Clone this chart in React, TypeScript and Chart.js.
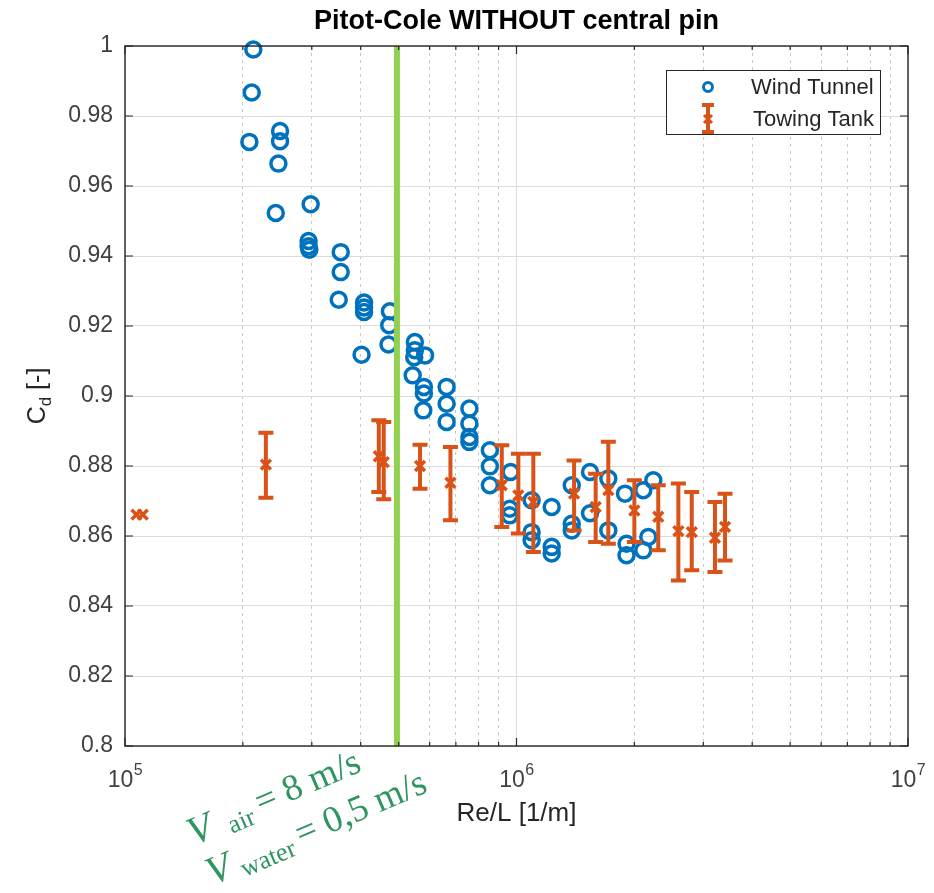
import React, { useEffect, useRef } from 'react';
import { Chart, registerables } from 'chart.js';

Chart.register(...registerables);

// ---------------- data ----------------
const windRe = [
  2.127e5, 2.107e5, 2.078e5, 2.489e5, 2.489e5, 2.465e5, 2.427e5,
  2.98e5, 2.944e5, 2.944e5, 2.957e5,
  3.556e5, 3.556e5, 3.515e5,
  4.08e5, 4.08e5, 4.08e5, 4.02e5,
  4.75e5, 4.73e5, 4.71e5,
  5.5e5, 5.5e5, 5.48e5, 5.84e5, 5.43e5, 5.8e5, 5.8e5, 5.78e5,
  6.63e5, 6.63e5, 6.63e5,
  7.58e5, 7.58e5, 7.58e5, 7.58e5,
  8.55e5, 8.55e5, 8.55e5,
  9.66e5, 9.61e5, 9.61e5,
  1.093e6, 1.093e6, 1.093e6,
  1.23e6, 1.23e6, 1.23e6,
  1.384e6, 1.384e6, 1.384e6,
  1.541e6, 1.541e6,
  1.716e6, 1.716e6,
  1.893e6, 1.91e6, 1.91e6,
  2.108e6, 2.236e6, 2.171e6, 2.108e6,
];
const windCd = [
  0.999, 0.9867, 0.9726, 0.9757, 0.9728, 0.9664, 0.9523,
  0.9548, 0.9443, 0.9428, 0.9418,
  0.9411, 0.9354, 0.9275,
  0.9267, 0.9253, 0.924, 0.9118,
  0.9242, 0.9202, 0.9147,
  0.9154, 0.9131, 0.9111, 0.9116, 0.9059, 0.9026, 0.9007, 0.8959,
  0.9026, 0.8978, 0.8926,
  0.8964, 0.8921, 0.8883, 0.8869,
  0.8845, 0.8799, 0.8745,
  0.8783, 0.8678, 0.8659,
  0.8702, 0.8611, 0.8588,
  0.8683, 0.8569, 0.855,
  0.8745, 0.8635, 0.8616,
  0.8783, 0.8665,
  0.8764, 0.8616,
  0.8721, 0.8578, 0.8545,
  0.8731, 0.8759, 0.8597, 0.8559,
];

const tankRe = [
  1.07e5, 1.11e5, 2.29e5, 4.45e5, 4.58e5, 5.67e5, 6.78e5,
  9.17e5, 1.011e6, 1.104e6, 1.403e6, 1.593e6, 1.716e6,
  2.0e6, 2.302e6, 2.591e6, 2.803e6, 3.213e6, 3.409e6,
];
const tankCd = [
  0.8661, 0.8661, 0.8804, 0.8828, 0.8811, 0.88, 0.8752,
  0.8745, 0.8716, 0.8697, 0.8721, 0.8683, 0.8731,
  0.8673, 0.8655, 0.8614, 0.8611, 0.8595, 0.8626,
];
const tankLow = [
  0.8661, 0.8661, 0.8709, 0.8726, 0.8705, 0.8735, 0.8645,
  0.8626, 0.8607, 0.8554, 0.8616, 0.8583, 0.8578,
  0.8583, 0.8559, 0.8473, 0.8502, 0.8497, 0.853,
];
const tankHigh = [
  0.8661, 0.8661, 0.8895, 0.8931, 0.8926, 0.8861, 0.8854,
  0.8859, 0.8835, 0.8835, 0.8816, 0.8778, 0.8869,
  0.8759, 0.8745, 0.875, 0.8726, 0.8697, 0.8721,
];

const speedLineRe = 4.95e5;

const xDecades = [1e5, 1e6, 1e7];
const xDecadeBase = ['10', '10', '10'];
const xDecadeExp = ['5', '6', '7'];
const yMin = 0.8;
const yMax = 1.0;
const yStep = 0.02;

const titleText = 'Pitot-Cole WITHOUT central pin';
const xLabelText = 'Re/L [1/m]';
const legendLabels = ['Wind Tunnel', 'Towing Tank'];

// ---------------- style ----------------
const W = 934;
const H = 893;
const BLUE = '#0072BD';
const ORANGE = '#D95319';
const GREEN = '#92D050';
const ANNOT = '#2e9560';
const AXIS = '#262626';
const TICK_TXT = '#404040';
const SANS = '"Liberation Sans", Arial, Helvetica, sans-serif';
const SERIF = '"Liberation Serif", "Times New Roman", serif';

const isDecade = (v: number) => Math.abs(Math.log10(v) - Math.round(Math.log10(v))) < 1e-9;

function drawParts(ctx: CanvasRenderingContext2D, ox: number, oy: number, angleDeg: number, parts: any[]) {
  ctx.save();
  ctx.translate(ox, oy);
  ctx.rotate((angleDeg * Math.PI) / 180);
  ctx.fillStyle = ANNOT;
  ctx.textBaseline = 'alphabetic';
  ctx.textAlign = 'left';
  parts.forEach((p) => {
    ctx.font = p.font;
    ctx.fillText(p.text, p.u, p.v);
  });
  ctx.restore();
}

function drawErrorBar(ctx: CanvasRenderingContext2D, x: number, yLo: number, yHi: number, cap: number) {
  ctx.beginPath();
  ctx.moveTo(x, yLo);
  ctx.lineTo(x, yHi);
  ctx.moveTo(x - cap, yLo);
  ctx.lineTo(x + cap, yLo);
  ctx.moveTo(x - cap, yHi);
  ctx.lineTo(x + cap, yHi);
  ctx.stroke();
}

const decorPlugin = {
  id: 'decor',
  beforeDraw(chart: any) {
    const ctx = chart.ctx;
    ctx.save();
    ctx.fillStyle = '#ffffff';
    ctx.fillRect(0, 0, chart.width, chart.height);
    ctx.restore();
  },
  beforeDatasetDraw(chart: any, args: any) {
    if (args.index !== 1) return;
    const ctx = chart.ctx;
    const xs = chart.scales.x;
    const ys = chart.scales.y;
    ctx.save();
    ctx.strokeStyle = ORANGE;
    ctx.lineWidth = 4;
    ctx.lineCap = 'butt';
    tankRe.forEach((re, i) => {
      if (tankHigh[i] - tankLow[i] < 1e-6) return;
      const x = xs.getPixelForValue(re);
      drawErrorBar(ctx, x, ys.getPixelForValue(tankLow[i]), ys.getPixelForValue(tankHigh[i]), 7.5);
    });
    ctx.restore();
  },
  afterDraw(chart: any) {
    const ctx: CanvasRenderingContext2D = chart.ctx;
    const a = chart.chartArea;
    const xs = chart.scales.x;
    const ys = chart.scales.y;
    ctx.save();

    // tick marks (inside, all four sides)
    ctx.strokeStyle = AXIS;
    ctx.lineWidth = 1.2;
    ctx.beginPath();
    xs.ticks.forEach((t: any) => {
      const px = xs.getPixelForValue(t.value);
      const len = isDecade(t.value) ? 8 : 4;
      ctx.moveTo(px, a.bottom);
      ctx.lineTo(px, a.bottom - len);
      ctx.moveTo(px, a.top);
      ctx.lineTo(px, a.top + len);
    });
    ys.ticks.forEach((t: any) => {
      const py = ys.getPixelForValue(t.value);
      ctx.moveTo(a.left, py);
      ctx.lineTo(a.left + 8, py);
      ctx.moveTo(a.right, py);
      ctx.lineTo(a.right - 8, py);
    });
    ctx.stroke();
    ctx.lineWidth = 1.4;
    ctx.strokeRect(a.left, a.top, a.right - a.left, a.bottom - a.top);

    // x tick labels: 10^n
    ctx.fillStyle = TICK_TXT;
    ctx.textAlign = 'left';
    ctx.textBaseline = 'alphabetic';
    xDecades.forEach((d, i) => {
      const px = xs.getPixelForValue(d);
      ctx.font = `23px ${SANS}`;
      const wb = ctx.measureText(xDecadeBase[i]).width;
      ctx.font = `16px ${SANS}`;
      const we = ctx.measureText(xDecadeExp[i]).width;
      const x0 = px - (wb + we) / 2;
      ctx.font = `23px ${SANS}`;
      ctx.fillText(xDecadeBase[i], x0, 787);
      ctx.font = `16px ${SANS}`;
      ctx.fillText(xDecadeExp[i], x0 + wb + 0.5, 775);
    });

    // title
    ctx.fillStyle = '#000';
    ctx.font = `bold 27px ${SANS}`;
    ctx.textAlign = 'center';
    ctx.textBaseline = 'middle';
    ctx.fillText(titleText, (a.left + a.right) / 2, 22);

    // x label
    ctx.fillStyle = AXIS;
    ctx.font = `26px ${SANS}`;
    ctx.fillText(xLabelText, (a.left + a.right) / 2, 814);

    // y label C_d [-]
    ctx.save();
    ctx.translate(36, (a.top + a.bottom) / 2);
    ctx.rotate(-Math.PI / 2);
    ctx.textAlign = 'left';
    ctx.textBaseline = 'alphabetic';
    const big = `25px ${SANS}`;
    const small = `17px ${SANS}`;
    ctx.font = big;
    const wC = ctx.measureText('C').width;
    const wRest = ctx.measureText(' [-]').width;
    ctx.font = small;
    const wd = ctx.measureText('d').width;
    const total = wC + wd + wRest;
    let u = -total / 2;
    ctx.font = big;
    ctx.fillText('C', u, 9);
    u += wC;
    ctx.font = small;
    ctx.fillText('d', u, 15);
    u += wd;
    ctx.font = big;
    ctx.fillText(' [-]', u, 9);
    ctx.restore();

    // legend
    const lx = a.right - 242;
    const ly = a.top + 24;
    const lw = 214;
    const lh = 64;
    ctx.fillStyle = '#fff';
    ctx.fillRect(lx, ly, lw, lh);
    ctx.strokeStyle = AXIS;
    ctx.lineWidth = 1;
    ctx.strokeRect(lx + 0.5, ly + 0.5, lw, lh);
    // wind tunnel marker
    ctx.strokeStyle = BLUE;
    ctx.lineWidth = 3;
    ctx.beginPath();
    ctx.arc(lx + 42, ly + 17, 4.5, 0, Math.PI * 2);
    ctx.stroke();
    // towing tank marker
    ctx.strokeStyle = ORANGE;
    ctx.lineWidth = 4;
    drawErrorBar(ctx, lx + 42, ly + 35, ly + 62, 6);
    ctx.lineWidth = 3;
    ctx.beginPath();
    const cx = lx + 42;
    const cy = ly + 49;
    ctx.moveTo(cx - 4, cy - 4);
    ctx.lineTo(cx + 4, cy + 4);
    ctx.moveTo(cx + 4, cy - 4);
    ctx.lineTo(cx - 4, cy + 4);
    ctx.stroke();
    ctx.fillStyle = AXIS;
    ctx.font = `22px ${SANS}`;
    ctx.textAlign = 'left';
    ctx.textBaseline = 'middle';
    ctx.fillText(legendLabels[0], lx + 85, ly + 18);
    ctx.fillText(legendLabels[1], lx + 87, ly + 50);

    // annotation (green, rotated)
    const vFont = `italic 40px ${SERIF}`;
    const subFont = `26px ${SERIF}`;
    const mainFont = `37px ${SERIF}`;
    drawParts(ctx, 193.7, 845.7, -23, [
      { text: 'V', font: vFont, u: 0, v: 0 },
      { text: 'air', font: subFont, u: 40, v: 4 },
      { text: '= 8 m/s', font: mainFont, u: 74, v: -3 },
    ]);
    drawParts(ctx, 212.4, 885.5, -23, [
      { text: 'V', font: vFont, u: 0, v: 0 },
      { text: 'water', font: subFont, u: 33, v: 5 },
      { text: '= 0,5 m/s', font: mainFont, u: 97, v: -2 },
    ]);

    ctx.restore();
  },
};

export default function App() {
  const ref = useRef<HTMLCanvasElement | null>(null);

  useEffect(() => {
    if (!ref.current) return;
    const chart = new Chart(ref.current, {
      type: 'scatter',
      data: {
        datasets: [
          {
            type: 'line',
            label: 'speed',
            data: [
              { x: speedLineRe, y: yMin },
              { x: speedLineRe, y: yMax },
            ],
            borderColor: GREEN,
            borderWidth: 6,
            pointRadius: 0,
            order: 0,
          } as any,
          {
            label: legendLabels[1],
            data: tankRe.map((x, i) => ({ x, y: tankCd[i] })),
            pointStyle: 'crossRot',
            pointRadius: 7,
            borderColor: ORANGE,
            backgroundColor: ORANGE,
            borderWidth: 3.5,
            order: 1,
            clip: false,
          } as any,
          {
            label: legendLabels[0],
            data: windRe.map((x, i) => ({ x, y: windCd[i] })),
            pointStyle: 'circle',
            pointRadius: 7.5,
            borderColor: BLUE,
            backgroundColor: 'rgba(0,0,0,0)',
            borderWidth: 3.5,
            order: 2,
            clip: false,
          } as any,
        ],
      },
      options: {
        responsive: false,
        animation: false,
        devicePixelRatio: 1,
        layout: { padding: { top: 46, right: 26, left: 0, bottom: 0 } },
        plugins: {
          legend: { display: false },
          tooltip: { enabled: false },
          title: { display: false },
        },
        scales: {
          x: {
            type: 'logarithmic',
            min: xDecades[0],
            max: xDecades[xDecades.length - 1],
            afterBuildTicks: (scale: any) => {
              const t: any[] = [];
              xDecades.forEach((d, i) => {
                t.push({ value: d });
                if (i < xDecades.length - 1) {
                  for (let m = 2; m <= 9; m++) t.push({ value: d * m });
                }
              });
              scale.ticks = t;
            },
            afterFit: (scale: any) => {
              scale.height = 147;
            },
            ticks: {
              display: false,
              autoSkip: false,
              maxRotation: 0,
              minRotation: 0,
            },
            grid: {
              drawTicks: false,
              lineWidth: 1,
              color: (c: any) => (c.tick && isDecade(c.tick.value) ? '#dcdcdc' : '#c8c8c8'),
            },
            border: {
              display: false,
              dash: (c: any) => (c.tick && isDecade(c.tick.value) ? [] : [3, 4]),
            },
          } as any,
          y: {
            type: 'linear',
            min: yMin,
            max: yMax,
            afterFit: (scale: any) => {
              scale.width = 125;
            },
            ticks: {
              stepSize: yStep,
              padding: 12,
              color: TICK_TXT,
              font: { family: SANS, size: 23 },
              callback: (v: any) => String(Number(Number(v).toFixed(2))),
            },
            grid: {
              drawTicks: false,
              lineWidth: 1,
              color: '#dcdcdc',
            },
            border: { display: false },
          } as any,
        },
      } as any,
      plugins: [decorPlugin as any],
    });
    return () => chart.destroy();
  }, []);

  return (
    <div style={{ position: 'absolute', left: 0, top: 0, width: W, height: H, background: '#fff' }}>
      <canvas ref={ref} width={W} height={H} style={{ display: 'block', width: W, height: H }} />
    </div>
  );
}
